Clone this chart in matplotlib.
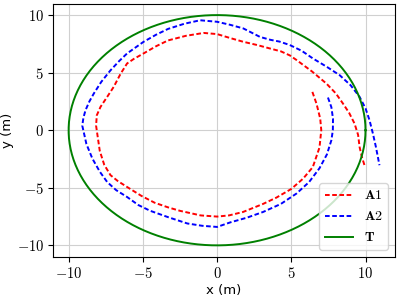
import numpy as np
import matplotlib
matplotlib.use('Agg')
import matplotlib.pyplot as plt
from matplotlib.ticker import FuncFormatter, MultipleLocator

plt.rcParams['mathtext.fontset'] = 'cm'

# trajectory A1
a1_x = [6.42, 6.7, 6.95, 7.02, 6.9, 6.45, 5.8, 5.0, 4.0, 3.1, 1.75, 0.8, 0.0,
        -1.1, -2.5, -3.3, -4.2, -5.1, -6.06, -6.7, -7.18, -7.6, -7.9, -8.15,
        -8.1, -7.85, -7.4, -6.96, -6.5, -6.06, -5.6, -4.95, -4.1, -3.3, -2.1,
        -0.9, 0.0, 0.9, 1.77, 2.7, 3.56, 4.3, 4.9, 5.35, 6.4, 7.36, 8.0, 8.48,
        8.9, 9.26, 9.5, 9.6, 9.75, 9.93]
a1_y = [3.33, 2.3, 1.0, 0.0, -1.5, -3.2, -4.2, -5.1, -5.85, -6.4, -7.1, -7.4,
        -7.5, -7.4, -7.0, -6.7, -6.3, -5.7, -4.93, -4.4, -3.9, -3.0, -1.8,
        0.4, 1.3, 2.03, 2.9, 3.77, 4.9, 5.8, 6.2, 6.67, 7.3, 7.8, 8.2,
        8.45, 8.35, 8.0, 7.68, 7.4, 7.1, 6.85, 6.5, 6.1, 5.1, 4.06, 3.2, 2.32,
        1.5, 0.58, -0.4, -1.45, -2.3, -3.04]

# trajectory A2
a2_x = [7.47, 7.7, 7.81, 7.8, 7.7, 7.4, 6.9, 6.2, 5.35, 4.3, 3.1, 2.0, 0.9,
        0.0, -1.0, -2.0, -3.3, -4.5, -5.3, -6.06, -6.8, -7.4, -7.9, -8.4,
        -8.8, -9.08, -9.0, -8.86, -8.6, -8.3, -7.8, -7.18, -6.6, -6.06, -4.95,
        -4.1, -3.3, -2.2, -1.14, 0.0, 0.9, 1.77, 2.9, 3.6, 4.2, 4.9, 5.7, 6.46,
        7.4, 8.26, 9.0, 9.6, 10.0, 10.27, 10.5, 10.7, 10.94]
a2_y = [2.84, 2.0, 1.0, 0.0, -0.87, -2.1, -3.3, -4.5, -5.5, -6.4, -7.1, -7.6,
        -8.0, -8.4, -8.3, -8.1, -7.55, -7.0, -6.5, -5.8, -5.2, -4.5, -3.6,
        -2.46, -1.2, 0.4, 1.1, 1.74, 2.5, 3.19, 4.2, 5.2, 6.0, 6.67, 7.68,
        8.3, 8.8, 9.25, 9.55, 9.42, 9.15, 8.84, 8.1, 7.85, 7.7, 7.4, 6.9, 6.23,
        5.5, 4.78, 3.9, 2.9, 1.9, 0.87, -0.3, -1.45, -3.04]

# target circle T
t_radius = 10.0
theta = np.linspace(0, 2 * np.pi, 400)
t_x = t_radius * np.cos(theta)
t_y = t_radius * np.sin(theta)

fig, ax = plt.subplots(figsize=(3.99, 2.98), dpi=100)
fig.subplots_adjust(left=0.133, right=0.99, top=0.988, bottom=0.138)

dash = (2.4, 1.3)
ax.plot(a1_x, a1_y, '--', dashes=dash, color='red', linewidth=1.4,
        label=r'$\mathbf{A1}$')
ax.plot(a2_x, a2_y, '--', dashes=dash, color='blue', linewidth=1.4,
        label=r'$\mathbf{A2}$')
ax.plot(t_x, t_y, '-', color='green', linewidth=1.4, label=r'$\mathbf{T}$')

ax.xaxis.set_major_locator(MultipleLocator(5))
ax.yaxis.set_major_locator(MultipleLocator(5))
fmt = FuncFormatter(lambda v, _: f'${v:g}$')
ax.xaxis.set_major_formatter(fmt)
ax.yaxis.set_major_formatter(fmt)
ax.tick_params(labelsize=10.5, pad=3)

ax.set_xlabel('x (m)', fontsize=9.5, labelpad=2)
ax.set_ylabel('y (m)', fontsize=9.5, labelpad=2)
ax.grid(True, color='#d0d0d0', linewidth=0.8)
ax.legend(loc='lower right', fontsize=10)

fig.savefig('out.png', dpi=100)
